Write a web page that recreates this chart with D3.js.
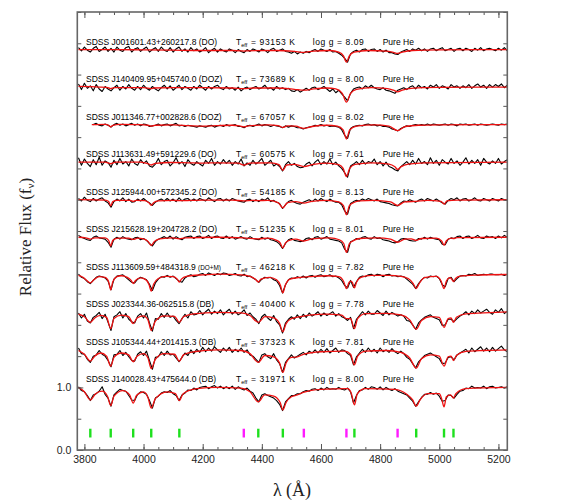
<!DOCTYPE html>
<html>
<head>
<meta charset="utf-8">
<title>Hot He-rich white dwarf spectra</title>
<script src="https://cdn.jsdelivr.net/npm/d3@7/dist/d3.min.js"></script>
<style>
  body { margin: 0; background: #fff; }
  svg { display: block; }
</style>
</head>
<body>
<svg width="561" height="501"></svg>
<script>
// labels of the ten stars, top to bottom
const starNames = ["J001601.43+260217.8", "J140409.95+045740.0", "J011346.77+002828.6",
  "J113631.49+591229.6", "J125944.00+572345.2", "J215628.19+204728.2",
  "J113609.59+484318.9", "J023344.36-062515.8", "J105344.44+201415.3", "J140028.43+475644.0"];
const spClass = ["DO", "DOZ", "DOZ", "DO", "DO", "DO", "DO+M", "DB", "DB", "DB"];
const teffK = [93153, 73689, 67057, 60575, 54185, 51235, 46218, 40400, 37323, 31971];
const loggVals = ["8.09", "8.00", "8.02", "7.61", "8.13", "8.01", "7.82", "7.78", "7.81", "8.00"];
const fitComp = "Pure He";

// observed spectra: flux in % of continuum, one value every 10 A starting at 3780 A
const gridStart = 3780, gridStep = 10;
const obs_J001601 = [103,98,104,99,96,102,105,97,100,104, 97,102,96,104,99,97,103,105,96,101,
  103,97,101,104,96,100,103,97,104,99, 97,103,96,101,104,97,101,96,103,98,
  101,96,99,103,95,99,102,96,101,98, 96,101,99,95,100,97,95,100,97,101,
  99,96,101,99,95,100,102,97,99,101, 97,96,94,97,93,96,94,97,95,98,
  100,97,101,99,97,100,96,97,94,91, 86,80,93,97,99,96,100,101,97,100,
  101,97,100,96,99,95,95,93,92,96, 98,100,97,101,99,102,98,101,97,101,
  102,98,101,103,98,100,102,97,101,102, 98,102,100,97,102,99,103,98,101,102,
  100,98,102,99,103,98,101];
const obs_J140409 = [105,96,106,98,102,94,104,97,93,101, 97,94,99,103,95,101,97,104,98,95,
  101,96,103,98,95,101,97,94,99,103, 97,102,95,99,103,96,101,98,95,101,
  97,103,99,95,101,97,101,103,98,96, 101,97,99,95,100,94,98,100,96,99,
  101,97,99,103,97,99,95,101,97,99, 96,98,94,93,96,92,95,98,95,99,
  100,96,98,101,97,93,97,91,95,89, 84,78,90,97,99,100,97,102,99,103,
  99,97,96,99,95,94,92,90,95,97, 99,96,100,102,97,103,99,101,97,103,
  100,104,98,102,100,97,104,100,102,98, 102,99,104,98,102,105,100,103,98,104,
  100,104,101,105,99,103,101];
const obs_J011346 = [null,null,null,null,null,100,102,99,98,101, 99,96,100,102,99,101,98,100,102,99,
  101,98,101,100,97,98,99,101,98,100, 101,98,100,102,98,99,97,99,98,97,
  96,98,97,96,98,99,96,98,99,97, 100,98,99,100,97,97,95,98,99,97,
  99,101,98,100,99,97,99,98,97,95, 98,96,98,97,95,95,93,95,96,97,
  99,98,100,98,99,97,98,97,96,92, 83,78,94,97,98,99,98,100,101,99,
  100,98,99,97,97,96,93,92,90,94, 96,98,97,99,100,99,100,99,101,99,
  101,100,99,100,101,99,101,100,98,101, 100,101,99,100,101,99,101,100,99,100,
  101,100,99,101,100,101,100];
const obs_J113631 = [107,95,105,98,93,104,96,108,95,102, 99,92,103,96,106,97,101,94,105,98,
  95,104,98,102,94,92,97,106,96,101, 103,94,99,107,97,101,93,104,98,95,
  101,97,94,103,98,106,95,101,97,104, 98,103,95,101,97,105,94,99,95,103,
  97,101,106,95,99,103,94,97,93,86, 96,101,95,98,93,91,92,97,100,94,
  100,104,96,101,97,105,96,100,94,90, 83,76,94,97,101,96,103,97,101,99,
  105,96,101,94,100,93,91,88,86,93, 97,101,96,103,97,106,98,101,96,107,
  98,103,95,104,100,97,106,98,102,95, 100,107,97,103,98,104,95,106,100,97,
  102,98,106,97,101,104,98];
const obs_J125944 = [102,98,104,99,97,102,98,101,103,98, 95,88,97,101,98,103,97,101,96,97,
  101,98,102,98,95,91,96,99,101,98, 102,98,101,97,103,98,101,102,98,101,
  98,102,100,98,103,100,97,101,102,98, 101,98,102,100,98,97,96,100,101,97,
  100,97,101,99,103,97,99,96,94,86, 92,97,99,96,94,93,96,98,100,97,
  101,98,102,99,97,101,98,96,96,92, 82,77,94,97,99,98,101,99,102,100,
  98,101,97,96,95,94,92,91,90,95, 98,97,100,98,96,99,101,98,102,100,
  98,101,98,95,93,99,102,100,103,98, 101,102,98,100,103,99,98,102,100,98,
  102,100,98,102,100,99,102];
const obs_J215628 = [103,100,98,96,95,100,102,99,98,97, 92,84,97,100,97,101,98,97,96,99,
  100,96,98,95,90,86,93,97,99,101, 98,102,97,101,98,96,100,101,102,98,
  101,102,98,100,103,98,101,102,99,98, 102,98,101,97,99,101,98,97,101,98,
  97,96,100,97,99,96,95,93,89,82, 90,96,98,95,94,93,94,98,99,96,
  100,101,97,99,101,97,96,95,94,91, 81,76,93,95,98,97,100,101,98,97,
  101,98,99,96,95,94,92,91,93,97, 98,97,95,94,94,98,97,100,97,100,
  98,97,96,89,88,97,99,98,101,102, 98,101,102,98,100,103,99,98,102,100,
  101,98,102,99,103,100,102];
const obs_J113609 = [101,96,94,89,86,91,96,98,97,95, 90,76,93,98,99,100,96,92,88,87,
  93,96,94,92,85,75,87,93,97,96, 99,96,98,94,90,88,95,98,100,97,
  98,101,102,99,103,101,99,102,100,103, 102,99,100,102,99,98,101,97,98,95,
  92,88,93,96,95,96,92,90,83,71, 84,92,95,94,97,95,98,95,98,99,
  96,99,100,97,98,100,97,98,95,91, 83,79,91,80,89,96,98,97,100,101,
  98,101,100,97,100,101,98,99,97,98, 97,93,89,85,78,86,92,96,95,98,
  97,98,94,84,81,94,96,89,94,98, 99,98,101,100,102,99,100,101,100,101,
  101,100,100,101,99,101,100];
const obs_J023344 = [99,91,97,86,83,92,95,100,90,97, 84,71,93,96,101,91,98,89,85,83,
  94,98,91,99,83,70,90,89,98,92, 99,92,94,87,82,90,97,91,101,96,
  97,103,96,101,105,97,102,98,104,96, 101,105,97,102,96,99,104,95,99,93,
  89,82,93,97,91,87,95,85,80,67, 83,89,93,89,96,90,97,92,99,94,
  97,101,94,99,95,98,101,94,98,93, 91,87,92,74,89,95,101,96,102,97,
  97,103,99,95,102,96,100,97,94,96, 94,87,86,80,73,83,88,92,94,96,
  92,90,88,79,80,89,89,85,90,94, 97,101,96,102,98,104,99,102,105,100,
  97,104,100,106,98,102,105];
const obs_J105344 = [103,94,93,85,80,90,92,99,93,90, 83,73,92,93,99,91,96,89,83,82,
  93,97,91,98,83,69,88,89,97,91, 98,92,93,87,81,88,95,91,100,94,
  101,96,104,97,103,98,105,100,96,103, 98,104,96,101,97,103,96,100,92,90,
  85,80,92,94,89,86,94,84,78,64, 80,86,92,87,90,93,96,92,98,95,
  100,95,101,96,102,95,99,103,96,100, 99,94,91,76,89,95,101,96,103,97,
  101,95,103,97,100,96,102,97,94,98, 94,88,85,78,71,81,86,91,93,95,
  92,89,86,78,79,88,89,84,92,95, 98,101,95,103,97,101,105,98,103,97,
  104,98,102,106,100,97,104];
const obs_J140028 = [101,95,93,87,79,88,90,94,101,89, 83,70,88,93,97,95,94,87,80,79,
  89,93,92,89,79,67,83,86,91,93, 92,95,90,87,79,88,91,96,95,99,
  96,100,101,102,98,101,103,99,102,98, 101,98,102,97,101,98,96,99,94,91,
  83,77,88,90,87,85,83,79,73,63, 77,82,87,87,90,90,93,95,94,97,
  98,95,99,96,100,97,98,97,100,97, 96,99,93,75,87,95,96,100,97,101,
  100,97,101,96,100,97,95,98,94,92, 90,88,83,78,70,77,84,89,89,92,
  89,91,86,78,79,88,87,83,89,94, 95,99,98,102,99,100,99,102,98,101,
  102,99,100,101,99,101,100];

// model fits: [wavelength A, normalised flux]
const fit_J001601 = [[3780,1.0],[3900,1.0],[4000,0.995],[4100,0.99],[4200,0.985],[4300,0.985],[4330,0.98],
  [4339,0.975],[4350,0.98],[4450,0.985],[4510,0.97],[4542,0.955],[4575,0.975],[4630,0.985],[4660,0.96],
  [4676,0.9],[4686,0.8],[4696,0.9],[4712,0.96],[4760,0.985],[4820,0.975],[4845,0.955],[4859,0.94],
  [4875,0.96],[4910,0.985],[5000,0.995],[5240,1.0]];
const fit_J140409 = [[3780,1.01],[3850,1.0],[3880,0.99],[3889,0.975],[3900,0.99],[4000,0.99],[4020,0.98],
  [4026,0.975],[4035,0.985],[4100,0.99],[4200,0.99],[4300,0.985],[4339,0.975],[4370,0.985],[4450,0.985],
  [4510,0.965],[4542,0.95],[4575,0.97],[4620,0.985],[4650,0.97],[4672,0.9],[4686,0.76],[4700,0.9],
  [4720,0.965],[4770,0.99],[4825,0.975],[4845,0.95],[4859,0.925],[4875,0.95],[4905,0.98],[5000,0.995],[5240,1.0]];
const fit_J011346 = [[3825,1.0],[3870,1.005],[3882,0.99],[3889,0.965],[3896,0.99],[3920,1.005],[3980,1.0],
  [4015,0.99],[4026,0.975],[4040,0.99],[4100,0.995],[4150,0.985],[4200,0.975],[4250,0.985],[4300,0.99],
  [4325,0.98],[4339,0.965],[4355,0.98],[4420,0.995],[4455,0.985],[4471,0.955],[4487,0.98],[4515,0.975],
  [4542,0.94],[4570,0.97],[4620,0.99],[4655,0.975],[4675,0.915],[4686,0.77],[4697,0.915],[4720,0.975],
  [4780,0.995],[4830,0.975],[4859,0.905],[4885,0.97],[4930,0.99],[5000,0.995],[5240,1.0]];
const fit_J113631 = [[3780,1.0],[3870,1.0],[3889,0.975],[3905,1.0],[3990,1.0],[4015,0.975],[4026,0.955],
  [4040,0.98],[4090,0.995],[4150,0.99],[4200,0.985],[4250,0.99],[4320,0.985],[4339,0.955],[4360,0.985],
  [4430,0.99],[4458,0.96],[4471,0.87],[4484,0.955],[4510,0.965],[4542,0.93],[4575,0.965],[4620,0.985],
  [4660,0.96],[4675,0.9],[4686,0.77],[4697,0.9],[4715,0.965],[4770,0.99],[4830,0.97],[4850,0.925],
  [4859,0.885],[4870,0.925],[4895,0.97],[4950,0.99],[5240,1.0]];
const fit_J125944 = [[3780,1.0],[3870,0.995],[3882,0.97],[3889,0.9],[3896,0.97],[3910,0.99],[3955,0.99],
  [3965,0.975],[3975,0.99],[4005,0.985],[4018,0.95],[4026,0.91],[4034,0.95],[4050,0.98],[4100,0.99],
  [4121,0.985],[4200,0.995],[4300,0.995],[4339,0.98],[4370,0.99],[4388,0.985],[4420,0.99],[4455,0.955],
  [4471,0.87],[4487,0.955],[4515,0.97],[4542,0.945],[4570,0.975],[4620,0.99],[4660,0.965],[4676,0.905],
  [4686,0.76],[4696,0.905],[4713,0.96],[4730,0.98],[4780,0.99],[4835,0.965],[4859,0.91],[4883,0.965],
  [4922,0.975],[4960,0.99],[5006,0.975],[5016,0.93],[5026,0.98],[5060,0.995],[5240,1.0]];
const fit_J215628 = [[3780,1.0],[3805,0.99],[3820,0.97],[3835,0.99],[3870,0.99],[3882,0.95],[3889,0.86],
  [3896,0.95],[3915,0.985],[3950,0.985],[3965,0.965],[3980,0.985],[4000,0.975],[4016,0.93],[4026,0.87],
  [4036,0.93],[4055,0.975],[4100,0.99],[4121,0.975],[4140,0.99],[4250,1.0],[4340,0.99],[4388,0.975],
  [4420,0.985],[4450,0.95],[4462,0.91],[4471,0.83],[4480,0.91],[4495,0.955],[4515,0.97],[4542,0.94],
  [4570,0.975],[4630,0.99],[4662,0.96],[4677,0.9],[4686,0.76],[4696,0.9],[4713,0.955],[4730,0.98],
  [4790,0.99],[4835,0.97],[4859,0.92],[4883,0.97],[4905,0.975],[4922,0.95],[4940,0.98],[4990,0.985],
  [5008,0.94],[5016,0.87],[5024,0.945],[5040,0.985],[5048,0.98],[5060,0.995],[5240,1.0]];
const fit_J113609 = [[3780,0.99],[3795,0.96],[3810,0.9],[3820,0.87],[3832,0.92],[3850,0.97],[3870,0.96],
  [3882,0.89],[3889,0.76],[3896,0.89],[3910,0.97],[3925,0.985],[3945,0.96],[3958,0.91],[3965,0.86],
  [3973,0.91],[3990,0.95],[4005,0.93],[4018,0.85],[4026,0.74],[4034,0.85],[4050,0.94],[4075,0.975],
  [4100,0.97],[4114,0.93],[4121,0.885],[4128,0.93],[4145,0.975],[4200,1.0],[4260,1.01],[4330,1.0],
  [4360,0.975],[4380,0.92],[4388,0.885],[4397,0.93],[4425,0.96],[4450,0.92],[4463,0.83],[4471,0.71],
  [4479,0.83],[4495,0.93],[4530,0.96],[4560,0.97],[4620,0.985],[4660,0.97],[4677,0.89],[4686,0.78],
  [4695,0.88],[4700,0.9],[4706,0.88],[4713,0.79],[4720,0.88],[4735,0.96],[4770,0.99],[4830,0.99],
  [4870,0.975],[4895,0.94],[4912,0.86],[4922,0.78],[4932,0.86],[4950,0.955],[4990,0.975],[5006,0.9],
  [5016,0.78],[5024,0.9],[5036,0.955],[5042,0.93],[5048,0.89],[5055,0.94],[5070,0.98],[5120,0.995],[5240,1.005]];
const fit_J023344 = [[3780,0.97],[3800,0.93],[3820,0.84],[3835,0.91],[3855,0.95],[3875,0.92],[3889,0.74],
  [3900,0.9],[3925,0.955],[3950,0.93],[3965,0.82],[3978,0.91],[4000,0.945],[4015,0.88],[4026,0.71],
  [4040,0.86],[4070,0.945],[4105,0.935],[4121,0.84],[4135,0.93],[4170,0.975],[4250,1.0],[4330,0.99],
  [4360,0.95],[4388,0.84],[4410,0.93],[4440,0.91],[4460,0.82],[4471,0.69],[4482,0.82],[4500,0.9],
  [4530,0.93],[4560,0.955],[4620,0.97],[4670,0.955],[4686,0.9],[4700,0.9],[4713,0.74],[4724,0.9],
  [4750,0.98],[4820,0.985],[4870,0.96],[4900,0.88],[4922,0.73],[4940,0.87],[4970,0.93],[5000,0.92],
  [5016,0.76],[5030,0.9],[5040,0.91],[5048,0.84],[5058,0.92],[5090,0.975],[5150,0.99],[5240,1.01]];
const fit_J105344 = [[3780,0.99],[3800,0.93],[3820,0.82],[3835,0.9],[3855,0.95],[3875,0.9],[3889,0.74],
  [3900,0.88],[3925,0.95],[3950,0.92],[3965,0.81],[3978,0.9],[4000,0.94],[4015,0.87],[4026,0.7],
  [4040,0.85],[4070,0.94],[4105,0.93],[4121,0.82],[4135,0.92],[4170,0.97],[4250,1.0],[4330,0.99],
  [4360,0.94],[4388,0.8],[4410,0.91],[4440,0.89],[4460,0.79],[4471,0.64],[4482,0.79],[4500,0.88],
  [4520,0.89],[4540,0.93],[4600,0.97],[4680,0.98],[4700,0.93],[4713,0.76],[4724,0.9],[4750,0.98],
  [4820,0.99],[4870,0.96],[4900,0.87],[4922,0.71],[4940,0.86],[4970,0.92],[5000,0.9],[5016,0.74],
  [5030,0.89],[5040,0.9],[5048,0.83],[5058,0.91],[5090,0.975],[5150,0.99],[5240,1.0]];
const fit_J140028 = [[3780,1.0],[3800,0.93],[3820,0.8],[3838,0.9],[3860,0.94],[3878,0.86],[3889,0.71],
  [3900,0.86],[3930,0.95],[3953,0.88],[3965,0.75],[3976,0.87],[4000,0.93],[4015,0.84],[4026,0.67],
  [4040,0.82],[4080,0.93],[4108,0.9],[4121,0.79],[4134,0.9],[4180,0.98],[4250,1.0],[4330,0.99],
  [4360,0.93],[4388,0.77],[4410,0.88],[4440,0.86],[4462,0.76],[4471,0.64],[4482,0.76],[4500,0.85],
  [4520,0.88],[4540,0.92],[4600,0.97],[4690,0.98],[4703,0.9],[4713,0.72],[4723,0.9],[4750,0.98],
  [4850,0.97],[4890,0.89],[4910,0.8],[4922,0.7],[4935,0.8],[4960,0.9],[5000,0.9],[5008,0.82],
  [5016,0.69],[5024,0.85],[5038,0.88],[5048,0.83],[5056,0.9],[5090,0.98],[5240,1.0]];

const obsSpectra = [obs_J001601, obs_J140409, obs_J011346, obs_J113631, obs_J125944,
  obs_J215628, obs_J113609, obs_J023344, obs_J105344, obs_J140028];
const fitSpectra = [fit_J001601, fit_J140409, fit_J011346, fit_J113631, fit_J125944,
  fit_J215628, fit_J113609, fit_J023344, fit_J105344, fit_J140028];

// line identifications drawn along the bottom
const heILines = [3820, 3889, 3965, 4026, 4121, 4388, 4471, 4713, 4922, 5016, 5048];
const heIILines = [4339, 4542, 4686, 4859];

const xMajorTicks = d3.range(3800, 5201, 200);
const xMinorTicks = d3.range(3800, 5230, 50);
const yLabelTicks = [0, 1];
const yMinorTicks = d3.range(0, 7.01, 0.5);
const offsetStep = 0.6;   // vertical shift between spectra

const svg = d3.select("svg");
const plotL = 77.3, plotR = 507.3, plotT = 12, plotB = 450;

const x = d3.scaleLinear().domain([3776, 5230]).range([plotL, plotR]);
const y = d3.scaleLinear().domain([0, 7]).range([plotB, plotT]);

svg.append("defs").append("clipPath").attr("id", "plotclip")
  .append("rect").attr("x", plotL).attr("y", plotT)
  .attr("width", plotR - plotL).attr("height", plotB - plotT);

const levelOf = k => 1 + offsetStep * (starNames.length - 1 - k);

// spectra
const plot = svg.append("g").attr("clip-path", "url(#plotclip)");
const obsLine = d3.line()
  .defined(d => d.f != null)
  .x(d => x(d.w)).y(d => y(d.f));
const fitLine = d3.line()
  .x(d => x(d[0])).y(d => y(d[1]))
  .curve(d3.curveMonotoneX);

obsSpectra.forEach((vals, k) => {
  const lev = levelOf(k) - 1;
  const pts = vals.map((v, j) => ({ w: gridStart + j * gridStep, f: v == null ? null : v / 100 + lev }));
  plot.append("path")
    .attr("fill", "none").attr("stroke", "#000").attr("stroke-width", 1.1)
    .attr("stroke-linejoin", "round")
    .attr("d", obsLine(pts));
});
fitSpectra.forEach((pairs, k) => {
  const lev = levelOf(k) - 1;
  plot.append("path")
    .attr("fill", "none").attr("stroke", "#ee1111").attr("stroke-width", 1.3)
    .attr("d", fitLine(pairs.map(p => [p[0], p[1] + lev])));
});

// line markers
svg.append("g").selectAll("line.hei").data(heILines).enter().append("line")
  .attr("x1", d => x(d)).attr("x2", d => x(d))
  .attr("y1", y(0.2)).attr("y2", y(0.34))
  .attr("stroke", "#1ee01e").attr("stroke-width", 2.4);
svg.append("g").selectAll("line.heii").data(heIILines).enter().append("line")
  .attr("x1", d => x(d)).attr("x2", d => x(d))
  .attr("y1", y(0.2)).attr("y2", y(0.34))
  .attr("stroke", "#ff1aff").attr("stroke-width", 2.4);

// star labels
const labels = svg.append("g")
  .attr("font-family", "'Liberation Sans', Arial, sans-serif")
  .attr("font-size", 8.5).attr("fill", "#000");
starNames.forEach((name, k) => {
  const base = y(levelOf(k)) - 5;
  const t = labels.append("text").attr("x", 86).attr("y", base).text(`SDSS ${name} `);
  const cls = t.append("tspan").text(`(${spClass[k]})`);
  if (spClass[k] === "DO+M") cls.attr("font-size", 6.4);
  const te = labels.append("text").attr("x", 236).attr("y", base);
  te.append("tspan").text("T");
  te.append("tspan").attr("font-size", 5.6).attr("dy", 2).text("eff");
  labels.append("text").attr("x", 251).attr("y", base)
    .attr("textLength", 44).attr("lengthAdjust", "spacing")
    .text(`= ${teffK[k]} K`);
  labels.append("text").attr("x", 312.7).attr("y", base)
    .attr("textLength", 51).attr("lengthAdjust", "spacing")
    .text(`log g = ${loggVals[k]}`);
  labels.append("text").attr("x", 382.7).attr("y", base).text(fitComp);
});

// axes (ticks point inwards)
const axisFont = "'Liberation Sans', Arial, sans-serif";
function styleAxis(g) {
  g.select(".domain").remove();
  g.selectAll("line").attr("stroke", "#555");
  g.selectAll("text").attr("font-family", axisFont).attr("font-size", 10.5).attr("fill", "#222");
}
svg.append("g").attr("transform", `translate(0,${plotB})`)
  .call(d3.axisBottom(x).tickValues(xMinorTicks).tickSizeInner(-3).tickSizeOuter(0).tickFormat(""))
  .call(styleAxis);
svg.append("g").attr("transform", `translate(0,${plotB})`)
  .call(d3.axisBottom(x).tickValues(xMajorTicks).tickSizeInner(-6).tickSizeOuter(0).tickPadding(6).tickFormat(d3.format("d")))
  .call(styleAxis);
svg.append("g").attr("transform", `translate(0,${plotT})`)
  .call(d3.axisTop(x).tickValues(xMinorTicks).tickSizeInner(-3).tickSizeOuter(0).tickFormat(""))
  .call(styleAxis);
svg.append("g").attr("transform", `translate(0,${plotT})`)
  .call(d3.axisTop(x).tickValues(xMajorTicks).tickSizeInner(-6).tickSizeOuter(0).tickFormat(""))
  .call(styleAxis);
svg.append("g").attr("transform", `translate(${plotL},0)`)
  .call(d3.axisLeft(y).tickValues(yMinorTicks).tickSizeInner(-4).tickSizeOuter(0).tickFormat(""))
  .call(styleAxis);
svg.append("g").attr("transform", `translate(${plotL},0)`)
  .call(d3.axisLeft(y).tickValues(yLabelTicks).tickSizeInner(-6).tickSizeOuter(0).tickPadding(6).tickFormat(d3.format(".1f")))
  .call(styleAxis);
svg.append("g").attr("transform", `translate(${plotR},0)`)
  .call(d3.axisRight(y).tickValues(yMinorTicks).tickSizeInner(-4).tickSizeOuter(0).tickFormat(""))
  .call(styleAxis);

// frame
svg.append("rect").attr("x", plotL).attr("y", plotT)
  .attr("width", plotR - plotL).attr("height", plotB - plotT)
  .attr("fill", "none").attr("stroke", "#666").attr("stroke-width", 1.6);

// axis titles
const yTitle = svg.append("text")
  .attr("transform", `translate(31,${(plotT + plotB) / 2 + 6}) rotate(-90)`)
  .attr("text-anchor", "middle")
  .attr("font-family", "'Liberation Serif', 'Times New Roman', serif")
  .attr("font-size", 17).attr("fill", "#222")
  .text("Relative Flux (f");
yTitle.append("tspan").attr("font-size", 11).attr("dy", 3).text("ν");
yTitle.append("tspan").attr("dy", -3).text(")");

svg.append("text")
  .attr("x", 292).attr("y", 496)
  .attr("text-anchor", "middle")
  .attr("font-family", "'Liberation Serif', 'Times New Roman', serif")
  .attr("font-size", 18).attr("fill", "#222")
  .text("λ (Å)");
</script>
</body>
</html>
